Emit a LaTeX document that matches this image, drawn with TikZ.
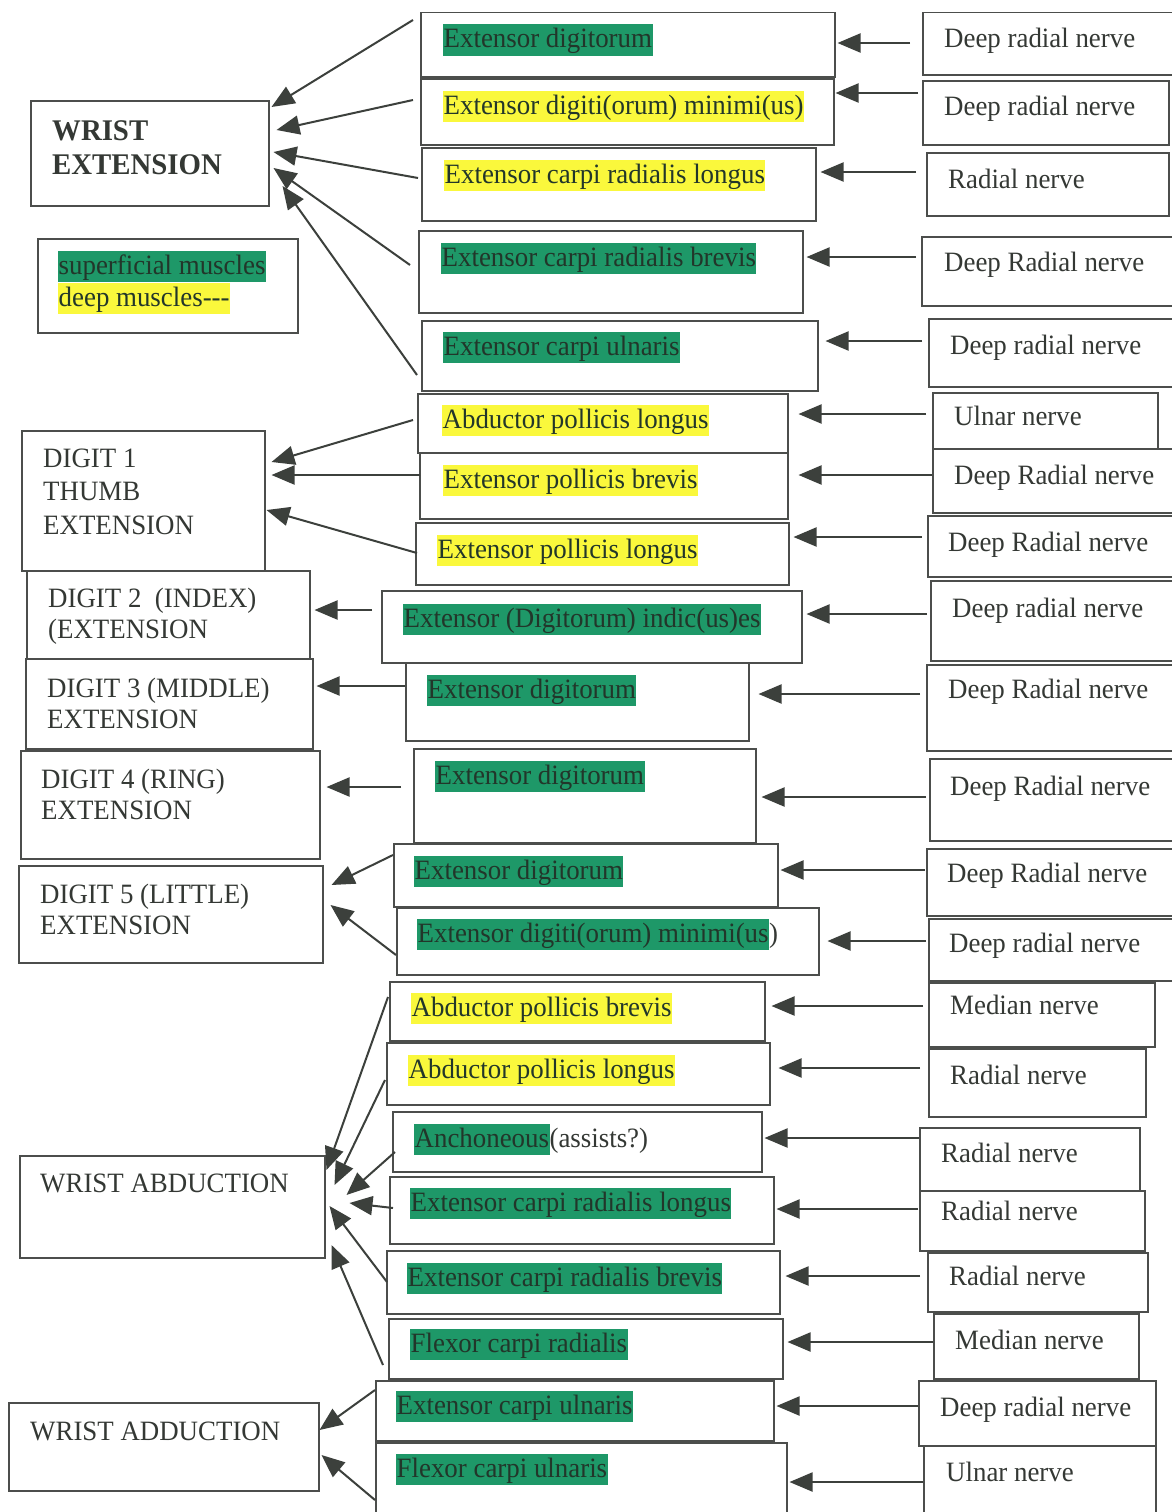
\documentclass[tikz,border=0pt]{standalone}
\usepackage{fontspec}
\setmainfont{Liberation Serif}[FakeStretch=0.96]
\usetikzlibrary{arrows.meta,calc}
\definecolor{hlg}{RGB}{30,152,104}
\definecolor{hly}{RGB}{250,248,60}
\definecolor{ink}{RGB}{52,56,52}
\definecolor{gink}{RGB}{34,54,42}
\definecolor{lin}{RGB}{60,64,60}
\definecolor{bxc}{RGB}{76,78,76}
\newcommand\hg[1]{{\setlength\fboxsep{0.5pt}\colorbox{hlg}{\color{gink}\vrule height 23pt depth 7.5pt width 0pt #1}}}
\newcommand\hy[1]{{\setlength\fboxsep{0.5pt}\colorbox{hly}{\color{gink}\vrule height 23pt depth 7.5pt width 0pt #1}}}
\tikzset{
  bxs/.style={draw=bxc, line width=1.5pt, inner sep=0pt, anchor=north west},
  txt/.style={inner sep=0pt, anchor=base west, text=ink, font=\fontsize{28}{33}\selectfont},
  ttl/.style={txt, font=\fontsize{30}{34}\selectfont\bfseries},
  arr/.style={draw=lin, line width=2pt, -{Triangle[length=23pt,width=19pt]}}
}
\newcommand\bx[5]{\node[bxs, minimum width={(#4)-(#2)}, minimum height={(#5)-(#3)}] (#1) at (#2,#3) {};}
\newcommand\tx[4]{\node[txt] (#1) at (#2,#3) {#4};}
\newcommand\harr[6]{\draw[arr, shorten <=#3pt, shorten >=#4pt] (#1.west |- 0,#5) -- (#2.east |- 0,#5);}
\begin{document}
\begin{tikzpicture}[x=1pt,y=-1pt]
\useasboundingbox[fill=white] (0,0) rectangle (1171,1512);
% left boxes
\bx{we}{30}{100}{268}{205}
\node[ttl] (we1) at (52,140) {WRIST};
\node[ttl] (we2) at (52,174) {EXTENSION};
\bx{leg}{37}{238}{297}{332}
\tx{leg1}{58}{274}{\hg{superficial muscles}}
\tx{leg2}{58}{306}{\hy{deep muscles-{}-{}-}}
\bx{d1}{21}{430}{264}{570}
\tx{d1a}{43}{467}{DIGIT 1}
\tx{d1b}{43}{500}{THUMB}
\tx{d1c}{43}{534}{EXTENSION}
\bx{d2}{26}{570}{309}{658}
\tx{d2a}{48}{607}{DIGIT 2\ \ (INDEX)}
\tx{d2b}{48}{638}{(EXTENSION}
\bx{d3}{25}{658}{312}{748}
\tx{d3a}{47}{697}{DIGIT 3 (MIDDLE)}
\tx{d3b}{47}{728}{EXTENSION}
\bx{d4}{20}{750}{319}{858}
\tx{d4a}{41}{788}{DIGIT 4 (RING)}
\tx{d4b}{41}{819}{EXTENSION}
\bx{d5}{18}{865}{322}{962}
\tx{d5a}{40}{903}{DIGIT 5 (LITTLE)}
\tx{d5b}{40}{934}{EXTENSION}
\bx{wab}{19}{1155}{324}{1257}
\tx{wabt}{40}{1192}{WRIST ABDUCTION}
\bx{wad}{8}{1402}{318}{1490}
\tx{wadt}{30}{1440}{WRIST ADDUCTION}
% muscles
\bx{m1}{420}{12}{834}{76}        \tx{mt1}{443}{48}{\hg{Extensor digitorum}}
\bx{m2}{420}{78}{833}{144}       \tx{mt2}{443}{114}{\hy{Extensor digiti(orum) minimi(us)}}
\bx{m3}{421}{147}{815}{220}      \tx{mt3}{444}{183}{\hy{Extensor carpi radialis longus}}
\bx{m4}{418}{230}{802}{312}      \tx{mt4}{441}{266}{\hg{Extensor carpi radialis brevis}}
\bx{m5}{421}{320}{817}{390}      \tx{mt5}{443}{355}{\hg{Extensor carpi ulnaris}}
\bx{m6}{417}{393}{787}{452}      \tx{mt6}{442}{428}{\hy{Abductor pollicis longus}}
\bx{m7}{419}{452}{787}{518}      \tx{mt7}{443}{488}{\hy{Extensor pollicis brevis}}
\bx{m8}{415}{522}{788}{584}      \tx{mt8}{437}{558}{\hy{Extensor pollicis longus}}
\bx{m9}{381}{590}{801}{662}      \tx{mt9}{403}{627}{\hg{Extensor (Digitorum) indic(us)es}}
\bx{m10}{405}{662}{748}{740}     \tx{mt10}{427}{698}{\hg{Extensor digitorum}}
\bx{m11}{413}{748}{755}{842}     \tx{mt11}{435}{784}{\hg{Extensor digitorum}}
\bx{m12}{393}{843}{777}{906}     \tx{mt12}{414}{879}{\hg{Extensor digitorum}}
\bx{m13}{396}{907}{818}{974}     \tx{mt13}{417}{942}{\hg{Extensor digiti(orum) minimi(us})}
\bx{m14}{389}{981}{764}{1040}    \tx{mt14}{411}{1016}{\hy{Abductor pollicis brevis}}
\bx{m15}{386}{1042}{769}{1104}   \tx{mt15}{408}{1078}{\hy{Abductor pollicis longus}}
\bx{m16}{392}{1111}{761}{1171}   \tx{mt16}{414}{1147}{\hg{Anchoneous}(assists?)}
\bx{m17}{389}{1176}{773}{1243}   \tx{mt17}{410}{1211}{\hg{Extensor carpi radialis longus}}
\bx{m18}{386}{1250}{779}{1313}   \tx{mt18}{407}{1286}{\hg{Extensor carpi radialis brevis}}
\bx{m19}{388}{1318}{782}{1378}   \tx{mt19}{410}{1352}{\hg{Flexor carpi radialis}}
\bx{m20}{375}{1380}{773}{1440}   \tx{mt20}{396}{1414}{\hg{Extensor carpi ulnaris}}
\bx{m21}{375}{1442}{786}{1516}   \tx{mt21}{396}{1477}{\hg{Flexor carpi ulnaris}}
% nerves
\bx{n1}{922}{12}{1180}{74}       \tx{nt1}{944}{48}{Deep radial nerve}
\bx{n2}{922}{80}{1168}{144}      \tx{nt2}{944}{115}{Deep radial nerve}
\bx{n3}{926}{152}{1168}{215}     \tx{nt3}{948}{188}{Radial nerve}
\bx{n4}{921}{236}{1180}{305}     \tx{nt4}{944}{271}{Deep Radial nerve}
\bx{n5}{928}{318}{1180}{386}     \tx{nt5}{950}{354}{Deep radial nerve}
\bx{n6}{932}{392}{1157}{448}     \tx{nt6}{954}{425}{Ulnar nerve}
\bx{n7}{932}{448}{1180}{512}     \tx{nt7}{954}{484}{Deep Radial nerve}
\bx{n8}{927}{515}{1180}{576}     \tx{nt8}{948}{551}{Deep Radial nerve}
\bx{n9}{930}{580}{1180}{660}     \tx{nt9}{952}{617}{Deep radial nerve}
\bx{n10}{926}{664}{1180}{750}    \tx{nt10}{948}{698}{Deep Radial nerve}
\bx{n11}{929}{758}{1180}{840}    \tx{nt11}{950}{795}{Deep Radial nerve}
\bx{n12}{926}{848}{1180}{915}    \tx{nt12}{947}{882}{Deep Radial nerve}
\bx{n13}{928}{918}{1180}{980}    \tx{nt13}{949}{952}{Deep radial nerve}
\bx{n14}{928}{982}{1154}{1046}   \tx{nt14}{950}{1014}{Median nerve}
\bx{n15}{928}{1048}{1145}{1116}  \tx{nt15}{950}{1084}{Radial nerve}
\bx{n16}{919}{1127}{1139}{1190}  \tx{nt16}{941}{1162}{Radial nerve}
\bx{n17}{919}{1190}{1144}{1250}  \tx{nt17}{941}{1220}{Radial nerve}
\bx{n18}{927}{1252}{1147}{1311}  \tx{nt18}{949}{1285}{Radial nerve}
\bx{n19}{933}{1313}{1138}{1378}  \tx{nt19}{955}{1349}{Median nerve}
\bx{n20}{918}{1380}{1155}{1445}  \tx{nt20}{940}{1416}{Deep radial nerve}
\bx{n21}{923}{1445}{1155}{1516}  \tx{nt21}{946}{1481}{Ulnar nerve}
% nerve -> muscle arrows
\harr{n1}{m1}{12}{2}{43}{}
\harr{n2}{m2}{4}{1}{93}{}
\harr{n3}{m3}{10}{4}{172}{}
\harr{n4}{m4}{5}{3}{257}{}
\harr{n5}{m5}{6}{7}{341}{}
\harr{n6}{m6}{6}{10}{414}{}
\harr{n7}{m7}{0}{10}{475}{}
\harr{n8}{m8}{5}{4}{537}{}
\harr{n9}{m9}{3}{4}{614}{}
\harr{n10}{m10}{6}{9}{694}{}
\harr{n11}{m11}{3}{5}{797}{}
\harr{n12}{m12}{1}{2}{870}{}
\harr{n13}{m13}{2}{8}{941}{}
\harr{n14}{m14}{5}{6}{1006}{}
\harr{n15}{m15}{8}{8}{1068}{}
\harr{n16}{m16}{0}{2}{1138}{}
\harr{n17}{m17}{1}{2}{1209}{}
\harr{n18}{m18}{7}{5}{1276}{}
\harr{n19}{m19}{0}{4}{1342}{}
\harr{n20}{m20}{0}{2}{1406}{}
\harr{n21}{m21}{0}{2}{1482}{}
% muscle -> movement arrows
\draw[arr] ($(m1.north west)+(-7,8)$) -- ($(we.north east)+(2,7)$);
\draw[arr] ($(m2.north west)+(-7,22)$) -- ($(we.north east)+(7,30)$);
\draw[arr] ($(m3.north west)+(-3,31)$) -- ($(we.north east)+(4,52)$);
\draw[arr] ($(m4.north west)+(-8,35)$) -- ($(we.north east)+(4,68)$);
\draw[arr] ($(m5.north west)+(-4,55)$) -- ($(we.north east)+(13,86)$);
\draw[arr] ($(m6.north west)+(-4,27)$) -- ($(d1.north east)+(6,32)$);
\draw[arr] ($(m7.north west)+(1,23)$) -- ($(d1.north east)+(6,45)$);
\draw[arr] ($(m8.north west)+(2,31)$) -- ($(d1.north east)+(1,80)$);
\draw[arr] ($(m9.north west)+(-9,20)$) -- ($(d2.north east)+(4,40)$);
\draw[arr] ($(m10.north west)+(0,24)$) -- ($(d3.north east)+(3,28)$);
\draw[arr] ($(m11.north west)+(-12,39)$) -- ($(d4.north east)+(6,37)$);
\draw[arr] ($(m12.north west)+(0,12)$) -- ($(d5.north east)+(8,20)$);
\draw[arr] ($(m13.north west)+(0,48)$) -- ($(d5.north east)+(7,40)$);
\draw[arr] ($(m14.north west)+(-1,16)$) -- ($(wab.north east)+(1,15)$);
\draw[arr] ($(m15.north west)+(-1,38)$) -- ($(wab.north east)+(9,30)$);
\draw[arr] ($(m16.north west)+(3,41)$) -- ($(wab.north east)+(21,40)$);
\draw[arr] ($(m17.north west)+(4,32)$) -- ($(wab.north east)+(24,48)$);
\draw[arr] ($(m18.north west)+(1,32)$) -- ($(wab.north east)+(4,51)$);
\draw[arr] ($(m19.north west)+(-5,47)$) -- ($(wab.north east)+(6,90)$);
\draw[arr] ($(m20.north west)+(0,10)$) -- ($(wad.north east)+(0,28)$);
\draw[arr] ($(m21.north west)+(0,58)$) -- ($(wad.north east)+(2,53)$);
\end{tikzpicture}
\end{document}
